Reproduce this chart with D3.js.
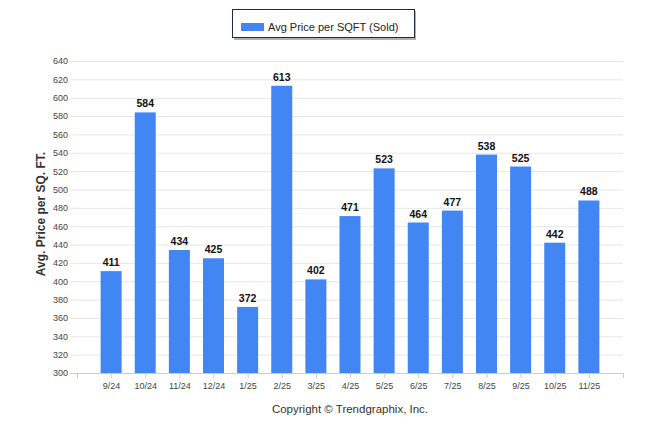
<!DOCTYPE html>
<html>
<head>
<meta charset="utf-8">
<script src="https://cdn.jsdelivr.net/npm/d3@7"></script>
<style>
    body { margin: 0; background: #fff; }
    text { font-family: "Liberation Sans", Arial, sans-serif; }
</style>
</head>
<body>
<svg id="chart" width="646" height="434"></svg>
<script>
var months = ['9/24', '10/24', '11/24', '12/24', '1/25', '2/25', '3/25', '4/25',
    '5/25', '6/25', '7/25', '8/25', '9/25', '10/25', '11/25'];
var avgPrice = [411, 584, 434, 425, 372, 613, 402, 471, 523, 464, 477, 538, 525, 442, 488];
var yTicks = d3.range(300, 641, 20);

var seriesName = 'Avg Price per SQFT (Sold)',
    barColor = '#4286f4';

var svg = d3.select('#chart');

var margin = {l: 77, r: 23, t: 61, b: 61},
    width = 646 - margin.l - margin.r,
    height = 434 - margin.t - margin.b;

// categories sit on 1..15, the axis runs 0..16
var x = d3.scaleLinear().domain([0, months.length + 1]).range([0, width]);
var y = d3.scaleLinear().domain([300, 640]).range([height, 0]);

var g = svg.append('g')
    .attr('transform', 'translate(' + margin.l + ',' + margin.t + ')');

// grid + y ticks
var yAxis = g.append('g')
    .call(d3.axisLeft(y).tickValues(yTicks).tickSize(-width - 7).tickPadding(2).tickFormat(d3.format('d')))
    .attr('transform', 'translate(0,0)');
yAxis.select('.domain').remove();
yAxis.selectAll('.tick line')
    .attr('x1', -7)
    .attr('x2', width)
    .attr('stroke', '#e6e6e6');
yAxis.selectAll('.tick text')
    .attr('x', -9)
    .attr('font-size', 9)
    .attr('fill', '#444')
    .style('font-family', '"Liberation Sans", Arial, sans-serif');

// x axis
var xAxis = g.append('g')
    .attr('transform', 'translate(0,' + height + ')')
    .call(d3.axisBottom(x).tickValues(d3.range(0, months.length + 2)).tickSize(5).tickPadding(5)
        .tickFormat(function(d) { return months[d - 1] || ''; }));
xAxis.select('.domain')
    .attr('d', 'M-7,0.5H' + width)
    .attr('stroke', '#cccccc');
xAxis.selectAll('.tick line').attr('stroke', '#cccccc');
xAxis.selectAll('.tick text')
    .attr('font-size', 9)
    .attr('fill', '#444')
    .style('font-family', '"Liberation Sans", Arial, sans-serif');

// bars
var barW = 21;
g.selectAll('rect.bar')
    .data(avgPrice)
    .enter().append('rect')
    .attr('class', 'bar')
    .attr('x', function(d, i) { return x(i + 1) - barW / 2; })
    .attr('y', function(d) { return y(d); })
    .attr('width', barW)
    .attr('height', function(d) { return height - y(d); })
    .attr('fill', barColor);

g.selectAll('text.val')
    .data(avgPrice)
    .enter().append('text')
    .attr('class', 'val')
    .attr('x', function(d, i) { return x(i + 1); })
    .attr('y', function(d) { return y(d) - 5; })
    .attr('text-anchor', 'middle')
    .attr('font-size', 10.5)
    .attr('font-weight', 'bold')
    .attr('fill', '#111')
    .text(function(d) { return d; });

// y title
svg.append('text')
    .attr('transform', 'translate(45,214) rotate(-90)')
    .attr('text-anchor', 'middle')
    .attr('font-size', 12)
    .attr('font-weight', 'bold')
    .attr('fill', '#333')
    .text('Avg. Price per SQ. FT.');

// legend
var legend = svg.append('g').attr('transform', 'translate(232,9)');
legend.append('rect')
    .attr('x', 2).attr('y', 2)
    .attr('width', 182).attr('height', 29)
    .attr('fill', '#b0b0b0');
legend.append('rect')
    .attr('x', 0.5).attr('y', 0.5)
    .attr('width', 182).attr('height', 28)
    .attr('fill', '#fff')
    .attr('stroke', '#1d2b4a');
legend.append('rect')
    .attr('x', 9).attr('y', 14)
    .attr('width', 23).attr('height', 8)
    .attr('fill', barColor);
legend.append('text')
    .attr('x', 36).attr('y', 22)
    .attr('font-size', 11)
    .attr('fill', '#222')
    .text(seriesName);

// footer
svg.append('text')
    .attr('x', 350).attr('y', 413)
    .attr('text-anchor', 'middle')
    .attr('font-size', 11.5)
    .attr('fill', '#333')
    .text('Copyright \u00a9 Trendgraphix, Inc.');
</script>
</body>
</html>
